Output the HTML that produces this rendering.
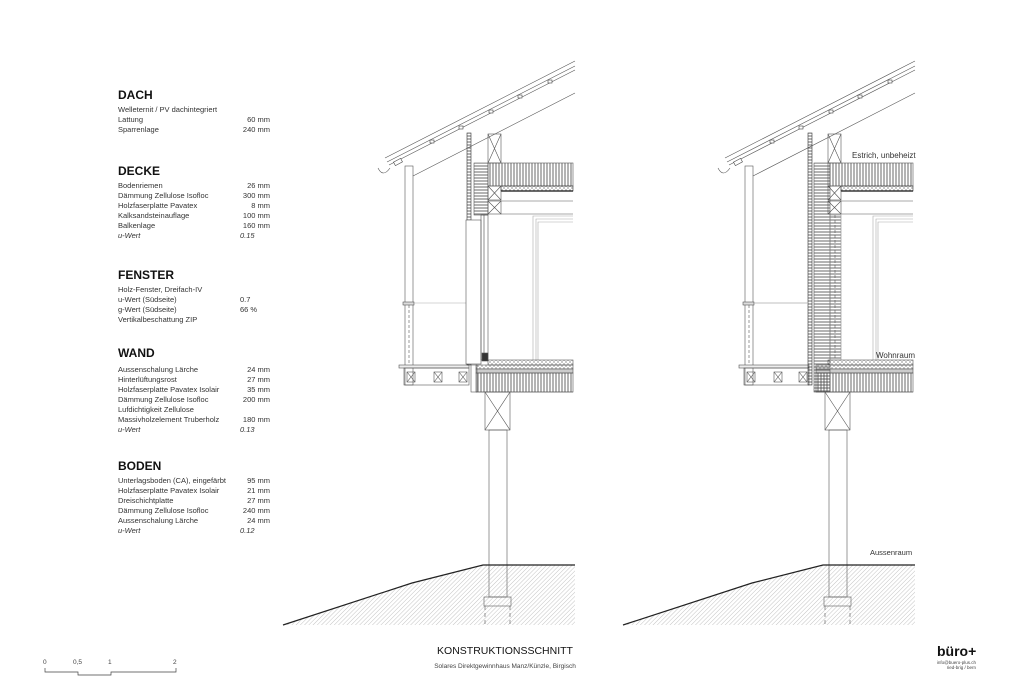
<!DOCTYPE html>
<html><head><meta charset="utf-8"><style>
body{margin:0;width:1025px;height:683px;background:#fff;position:relative;overflow:hidden;font-family:"Liberation Sans",sans-serif;color:#222}
.h{position:absolute;left:118px;font-weight:bold;font-size:12px;color:#111}
.t{position:absolute;left:118px;font-size:7.5px;line-height:10px;width:152px;color:#333}
.t div{position:relative;height:10px}
.t span{position:absolute;right:0;top:0}
.t i span{right:auto;left:122px}
</style></head><body>
<div class="h" style="top:88px">DACH</div>
<div class="t" style="top:105px"><div>Welleternit / PV dachintegriert</div><div>Lattung<span>60 mm</span></div><div>Sparrenlage<span>240 mm</span></div></div>
<div class="h" style="top:164px">DECKE</div>
<div class="t" style="top:181px"><div>Bodenriemen<span>26 mm</span></div><div>Dämmung Zellulose Isofloc<span>300 mm</span></div><div>Holzfaserplatte Pavatex<span>8 mm</span></div><div>Kalksandsteinauflage<span>100 mm</span></div><div>Balkenlage<span>160 mm</span></div><div><i>u-Wert<span>0.15</span></i></div></div>
<div class="h" style="top:268px">FENSTER</div>
<div class="t" style="top:285px"><div>Holz-Fenster, Dreifach-IV</div><div>u-Wert (Südseite)<span style="right:auto;left:122px">0.7</span></div><div>g-Wert (Südseite)<span style="right:auto;left:122px">66 %</span></div><div>Vertikalbeschattung ZIP</div></div>
<div class="h" style="top:346px">WAND</div>
<div class="t" style="top:365px"><div>Aussenschalung Lärche<span>24 mm</span></div><div>Hinterlüftungsrost<span>27 mm</span></div><div>Holzfaserplatte Pavatex Isolair<span>35 mm</span></div><div>Dämmung Zellulose Isofloc<span>200 mm</span></div><div>Lufdichtigkeit Zellulose</div><div>Massivholzelement Truberholz<span>180 mm</span></div><div><i>u-Wert<span>0.13</span></i></div></div>
<div class="h" style="top:459px">BODEN</div>
<div class="t" style="top:476px"><div>Unterlagsboden (CA), eingefärbt<span>95 mm</span></div><div>Holzfaserplatte Pavatex Isolair<span>21 mm</span></div><div>Dreischichtplatte<span>27 mm</span></div><div>Dämmung Zellulose Isofloc<span>240 mm</span></div><div>Aussenschalung Lärche<span>24 mm</span></div><div><i>u-Wert<span>0.12</span></i></div></div>

<svg width="1025" height="683" style="position:absolute;left:0;top:0" fill="none" stroke="#555" stroke-width="0.6">
<defs>
<pattern id="vs" width="3" height="10" patternUnits="userSpaceOnUse"><line x1="1" y1="0" x2="1" y2="10" stroke="#444" stroke-width="0.8"/></pattern>
<pattern id="hs" width="10" height="3" patternUnits="userSpaceOnUse"><line x1="0" y1="1" x2="10" y2="1" stroke="#444" stroke-width="0.8"/></pattern>
<pattern id="dg" width="3" height="3" patternUnits="userSpaceOnUse" patternTransform="rotate(45)"><line x1="0" y1="0" x2="0" y2="3" stroke="#888" stroke-width="0.5"/></pattern>
<pattern id="xh" width="4" height="4" patternUnits="userSpaceOnUse"><path d="M0 0L4 4M4 0L0 4" stroke="#777" stroke-width="0.4"/></pattern>
<g id="base">
 <path d="M385 158L575 61M387 162L575 66M389 165L575 70M413 176L575 93"/>
 <path d="M378 168q5 10 12 0"/>
 <g fill="#fff" stroke="#444"><rect x="394" y="160" width="8" height="4" transform="rotate(-28 398 162)"/><rect x="430" y="140" width="4" height="3"/><rect x="459" y="126" width="4" height="3"/><rect x="489" y="110" width="4" height="3"/><rect x="518" y="95" width="4" height="3"/><rect x="548" y="80" width="4" height="3"/></g>
 <rect x="405" y="166" width="8" height="219"/>
 <line x1="409" y1="305" x2="409" y2="365" stroke-dasharray="3 2"/>
 <rect x="403" y="302" width="11" height="3" fill="#ddd"/>
 <line x1="413" y1="303" x2="467" y2="303" stroke="#aaa"/>
 <rect x="488" y="134" width="13" height="29"/><path d="M488 134L501 163M501 134L488 163"/>
 <rect x="488" y="163" width="85" height="23" fill="url(#vs)"/>
 <rect x="501" y="186" width="72" height="5" fill="url(#xh)" stroke="#333"/>
 <line x1="501" y1="191" x2="573" y2="191" stroke="#111" stroke-width="1.2"/>
 <rect x="488" y="186" width="13" height="14"/><path d="M488 186L501 200M501 186L488 200"/>
 <rect x="488" y="201" width="13" height="13"/><path d="M488 201L501 214M501 201L488 214"/>
 <line x1="501" y1="201" x2="573" y2="201"/><line x1="501" y1="214" x2="573" y2="214"/>
 <path d="M533 360V216H573M536 360V219H573M538 360V222H573" stroke="#aaa"/>
 <rect x="488" y="360" width="85" height="5" fill="url(#xh)"/>
 <rect x="476" y="365" width="97" height="4" fill="url(#xh)"/>
 <rect x="476" y="369" width="97" height="4" fill="#ccc"/>
 <rect x="476" y="373" width="97" height="19" fill="url(#vs)"/>
 <line x1="476" y1="392" x2="573" y2="392"/>
 <rect x="399" y="365" width="70" height="3" fill="#eee"/>
 <rect x="404" y="368" width="65" height="17"/>
 <g><rect x="407" y="372" width="8" height="10"/><path d="M407 372l8 10M415 372l-8 10"/><rect x="434" y="372" width="8" height="10"/><path d="M434 372l8 10M442 372l-8 10"/><rect x="459" y="372" width="8" height="10"/><path d="M459 372l8 10M467 372l-8 10"/></g>
 <rect x="485" y="392" width="25" height="38"/><path d="M485 392L510 430M510 392L485 430"/>
 <rect x="489" y="430" width="18" height="167"/>
 <rect x="484" y="597" width="27" height="9"/>
 <path d="M283 625L412 583L483 565H575V625Z" fill="url(#dg)" stroke="none"/>
 <path d="M283 625L412 583L483 565H575" stroke="#222" stroke-width="1.2"/>
 <path d="M485 606V625M510 606V625" stroke-dasharray="4 3"/>
</g>
</defs>
<use href="#base"/>
<use href="#base" x="340"/>
<rect x="467" y="133" width="4" height="232" fill="url(#hs)" stroke="#333"/>
<rect x="474" y="163" width="14" height="52" fill="url(#hs)"/>
<rect x="466" y="220" width="15" height="144" fill="#fff"/>
<rect x="481" y="215" width="7" height="145"/>
<line x1="484" y1="215" x2="484" y2="360" stroke="#444"/>
<rect x="482" y="353" width="6" height="8" fill="#333"/>
<rect x="471" y="365" width="6" height="27"/>
<rect x="808" y="133" width="4" height="252" fill="url(#hs)" stroke="#333"/>
<rect x="814" y="163" width="16" height="229" fill="url(#hs)"/>
<rect x="830" y="215" width="11" height="145" fill="url(#hs)" stroke="#888"/>
<line x1="835" y1="215" x2="835" y2="360" stroke-dasharray="3 2"/>
<line x1="753" y1="303" x2="808" y2="303" stroke="#aaa"/>
</svg>
<div style="position:absolute;left:852px;top:151px;font-size:8px;color:#333">Estrich, unbeheizt</div>
<div style="position:absolute;left:876px;top:351px;font-size:8px;color:#333">Wohnraum</div>
<div style="position:absolute;left:870px;top:548px;font-size:7.5px;color:#333">Aussenraum</div>
<div style="position:absolute;left:0;width:1010px;text-align:center;top:645px;font-size:10.5px;color:#111">KONSTRUKTIONSSCHNITT</div>
<div style="position:absolute;left:0;width:1010px;text-align:center;top:663px;font-size:6.5px;color:#444">Solares Direktgewinnhaus Manz/Künzle, Birgisch</div>
<div style="position:absolute;left:937px;top:643px;font-size:14px;font-weight:bold;color:#111">büro+</div>
<div style="position:absolute;left:900px;top:660px;font-size:4.5px;line-height:5px;color:#444;text-align:right;width:76px;white-space:nowrap">info@buero-plus.ch<br>ried-brig / bern</div>
<div style="position:absolute;left:43px;top:659px;font-size:6.5px;color:#444">0</div>
<div style="position:absolute;left:73px;top:659px;font-size:6.5px;color:#444">0,5</div>
<div style="position:absolute;left:108px;top:659px;font-size:6.5px;color:#444">1</div>
<div style="position:absolute;left:173px;top:659px;font-size:6.5px;color:#444">2</div>
<svg width="200" height="20" style="position:absolute;left:0;top:665px" fill="none" stroke="#444" stroke-width="0.7"><path d="M45 3V7H78V10H111V7H176V3"/></svg>
</body></html>
